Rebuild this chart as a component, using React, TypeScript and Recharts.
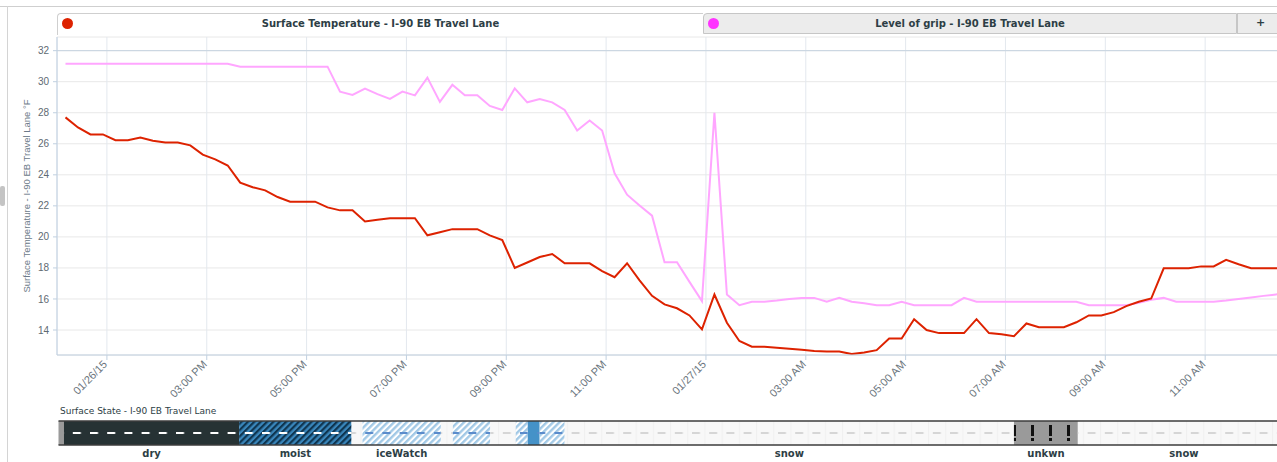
import React from "react";
import {
  LineChart,
  Line,
  XAxis,
  YAxis,
  CartesianGrid,
  ReferenceLine,
  ReferenceArea,
  ComposedChart,
} from "recharts";

// hours since 12:00 PM 01/26/15, one reading every 15 minutes
const hours = [
  0.17, 0.42, 0.67, 0.92, 1.17, 1.42, 1.67, 1.92, 2.17, 2.42, 2.67, 2.92,
  3.17, 3.42, 3.67, 3.92, 4.17, 4.42, 4.67, 4.92, 5.17, 5.42, 5.67, 5.92,
  6.17, 6.42, 6.67, 6.92, 7.17, 7.42, 7.67, 7.92, 8.17, 8.42, 8.67, 8.92,
  9.17, 9.42, 9.67, 9.92, 10.17, 10.42, 10.67, 10.92, 11.17, 11.42, 11.67, 11.92,
  12.17, 12.42, 12.67, 12.92, 13.17, 13.42, 13.67, 13.92, 14.17, 14.42, 14.67, 14.92,
  15.17, 15.42, 15.67, 15.92, 16.17, 16.42, 16.67, 16.92, 17.17, 17.42, 17.67, 17.92,
  18.17, 18.42, 18.67, 18.92, 19.17, 19.42, 19.67, 19.92, 20.17, 20.42, 20.67, 20.92,
  21.17, 21.42, 21.67, 21.92, 22.17, 22.42, 22.67, 22.92, 23.17, 23.42, 23.67, 23.92,
  24.17, 24.42, 24.67,
];

const surfaceTemp = [
  27.7, 27.05, 26.6, 26.6, 26.23, 26.23, 26.4, 26.2, 26.08, 26.08, 25.9, 25.3,
  25.0, 24.6, 23.5, 23.2, 23.0, 22.57, 22.27, 22.27, 22.27, 21.9, 21.71, 21.71,
  21.0, 21.1, 21.2, 21.2, 21.2, 20.1, 20.3, 20.5, 20.5, 20.5, 20.1, 19.8,
  18.0, 18.35, 18.7, 18.9, 18.3, 18.3, 18.3, 17.8, 17.4, 18.3, 17.2, 16.2,
  15.65, 15.4, 14.94, 14.04, 16.29, 14.47, 13.29, 12.92, 12.92, 12.86, 12.8, 12.73,
  12.65, 12.62, 12.62, 12.45, 12.55, 12.7, 13.45, 13.45, 14.7, 14.0, 13.8, 13.8,
  13.8, 14.7, 13.8, 13.72, 13.6, 14.42, 14.18, 14.18, 14.18, 14.5, 14.94, 14.94,
  15.15, 15.54, 15.82, 16.03, 17.98, 17.98, 17.98, 18.1, 18.1, 18.52, 18.24, 17.98,
  17.98, 17.98, 17.98,
];

const grip = [
  31.16, 31.16, 31.16, 31.16, 31.16, 31.16, 31.16, 31.16, 31.16, 31.16, 31.16, 31.16,
  31.16, 31.16, 30.97, 30.97, 30.97, 30.97, 30.97, 30.97, 30.97, 30.97, 29.36, 29.15,
  29.55, 29.2, 28.89, 29.36, 29.12, 30.26, 28.7, 29.8, 29.13, 29.13, 28.44, 28.18,
  29.57, 28.67, 28.89, 28.67, 28.18, 26.85, 27.5, 26.85, 24.1, 22.72, 22.03, 21.37,
  18.37, 18.37, 17.1, 15.86, 28.0, 16.29, 15.6, 15.82, 15.82, 15.9, 16.0, 16.07,
  16.07, 15.82, 16.07, 15.82, 15.73, 15.6, 15.6, 15.82, 15.6, 15.6, 15.6, 15.6,
  16.07, 15.82, 15.82, 15.82, 15.82, 15.82, 15.82, 15.82, 15.82, 15.82, 15.6, 15.6,
  15.6, 15.6, 15.75, 15.95, 16.07, 15.82, 15.82, 15.82, 15.82, 15.9, 16.0, 16.1,
  16.2, 16.29, 16.38,
];

const xTicks = [1, 3, 5, 7, 9, 11, 13, 15, 17, 19, 21, 23];
const xTickLabels = [
  "01/26/15", "03:00 PM", "05:00 PM", "07:00 PM", "09:00 PM", "11:00 PM",
  "01/27/15", "03:00 AM", "05:00 AM", "07:00 AM", "09:00 AM", "11:00 AM",
];
const yTicks = [14, 16, 18, 20, 22, 24, 26, 28, 30, 32];

// surface state segments
const stateNames = [
  "edge", "dry", "moist", "snow", "iceWatch", "snow", "iceWatch", "snow",
  "iceWatch", "ice", "iceWatch", "snow", "unkwn", "snow",
];
const stateStart = [0.03, 0.14, 3.65, 5.9, 6.12, 7.69, 7.93, 8.68, 9.19, 9.43, 9.67, 10.17, 19.17, 20.45];
const stateEnd = [0.14, 3.65, 5.9, 6.12, 7.69, 7.93, 8.68, 9.19, 9.43, 9.67, 10.17, 19.17, 20.45, 24.7];

const rows = hours.map((t, i) => ({ t, temp: surfaceTemp[i], grip: grip[i] }));
const stripRows = [{ t: 0, v: 0.5 }, { t: 24.7, v: 0.5 }];

const X_DOMAIN: [number, number] = [0, 24.7];
const CHART_W = 1290;
const AXIS_FONT = "'Liberation Sans', Arial, sans-serif";
const UI_FONT = "'DejaVu Sans', Verdana, sans-serif";

const stateStyle: Record<string, { bg: string; hatch?: string; dash?: string }> = {
  edge: { bg: "#9a9a9a" },
  dry: { bg: "#263234", dash: "dashWhite" },
  moist: { bg: "#3a86bb", hatch: "hatchDark", dash: "dashWhite" },
  iceWatch: { bg: "#ffffff", hatch: "hatchLight", dash: "dashBlue" },
  ice: { bg: "#4592c8", dash: "dashBlue" },
  snow: { bg: "#f8f8f8", dash: "dashGrey" },
  unkwn: { bg: "#9a9a9a", dash: "bang" },
};

function XTick({ x, y, payload }: any) {
  const label = xTickLabels[xTicks.indexOf(payload.value)];
  const ax = x + 1;
  const ay = y + 3;
  return (
    <text
      x={ax}
      y={ay}
      transform={`rotate(-45 ${ax} ${ay})`}
      textAnchor="end"
      fontSize={11}
      fontFamily={AXIS_FONT}
      fill="#6a747c"
    >
      {label}
    </text>
  );
}

function StateCell(props: any) {
  const { x, y, width, height, state } = props;
  const s = stateStyle[state];
  if (!s || width == null) return null;
  return (
    <g>
      <rect x={x} y={y} width={width} height={height} fill={s.bg} />
      {s.hatch && <rect x={x} y={y} width={width} height={height} fill={`url(#${s.hatch})`} />}
      {s.dash && <rect x={x} y={y} width={width} height={height} fill={`url(#${s.dash})`} />}
    </g>
  );
}

function Patterns() {
  return (
    <svg width={0} height={0} style={{ position: "absolute" }}>
      <defs>
        <pattern id="hatchDark" width={4.5} height={4.5} patternUnits="userSpaceOnUse" patternTransform="rotate(45)">
          <rect x={0} y={0} width={2.2} height={4.5} fill="#0f3550" />
        </pattern>
        <pattern id="hatchLight" width={4.5} height={4.5} patternUnits="userSpaceOnUse" patternTransform="rotate(45)">
          <rect x={0} y={0} width={2.4} height={4.5} fill="#a2c9e6" />
        </pattern>
        <pattern id="dashWhite" x={4} y={0} width={17.2} height={30} patternUnits="userSpaceOnUse">
          <rect x={0} y={12} width={8} height={2} fill="#ffffff" />
        </pattern>
        <pattern id="dashBlue" x={4} y={0} width={17.2} height={30} patternUnits="userSpaceOnUse">
          <rect x={0} y={12} width={8} height={2} fill="#5a8bcb" />
        </pattern>
        <pattern id="dashGrey" x={4} y={0} width={17.2} height={30} patternUnits="userSpaceOnUse">
          <rect x={0} y={12} width={8} height={2} fill="#d6d6d6" />
          <rect x={12.5} y={0} width={1} height={30} fill="#f0f0f0" />
        </pattern>
        <pattern id="bang" x={1} y={0} width={18} height={30} patternUnits="userSpaceOnUse">
          <rect x={4} y={5} width={3} height={11} fill="#111" />
          <rect x={4} y={18} width={3} height={3} fill="#111" />
        </pattern>
      </defs>
    </svg>
  );
}

export default function App() {
  return (
    <div
      style={{
        position: "fixed",
        left: 0,
        top: 0,
        width: 1277,
        height: 462,
        overflow: "hidden",
        background: "#fff",
      }}
    >
      <Patterns />
      {/* frame */}
      <div style={{ position: "absolute", left: 0, top: 6, width: 1277, height: 1, background: "#cfcfcf" }} />
      <div style={{ position: "absolute", left: 7, top: 6, width: 1, height: 456, background: "#d4d4d4" }} />
      <div style={{ position: "absolute", left: 0, top: 186, width: 5, height: 20, background: "#c4c4c4", borderRadius: 2 }} />

      {/* tabs */}
      <div
        style={{
          position: "absolute", left: 57, top: 13, width: 646, height: 22,
          background: "#fff", borderTop: "1px solid #cfcfcf", borderLeft: "1px solid #cfcfcf",
          borderTopLeftRadius: 4, boxSizing: "border-box",
        }}
      >
        <div style={{ position: "absolute", left: 4, top: 4, width: 11, height: 11, borderRadius: 6, background: "#dd2200" }} />
        <div style={{ textAlign: "center", fontFamily: UI_FONT, fontWeight: "bold", fontSize: 10, lineHeight: "19px", color: "#2d3e45" }}>
          Surface Temperature - I-90 EB Travel Lane
        </div>
      </div>
      <div
        style={{
          position: "absolute", left: 703, top: 13, width: 534, height: 21,
          background: "#ececec", border: "1px solid #c6c6c6", borderTopLeftRadius: 4, boxSizing: "border-box",
        }}
      >
        <div style={{ position: "absolute", left: 4, top: 4, width: 11, height: 11, borderRadius: 6, background: "#ff33ff" }} />
        <div style={{ textAlign: "center", fontFamily: UI_FONT, fontWeight: "bold", fontSize: 10, lineHeight: "19px", color: "#2d3e45" }}>
          Level of grip - I-90 EB Travel Lane
        </div>
      </div>
      <div
        style={{
          position: "absolute", left: 1237, top: 13, width: 45, height: 21,
          background: "#ececec", border: "1px solid #c6c6c6", boxSizing: "border-box",
          fontFamily: UI_FONT, fontWeight: "bold", fontSize: 11, lineHeight: "18px", color: "#2d3e45",
          paddingLeft: 18,
        }}
      >
        +
      </div>

      {/* temperature / grip chart */}
      <div style={{ position: "absolute", left: 0, top: 0 }}>
        <LineChart width={CHART_W} height={400} data={rows} margin={{ top: 37, right: 0, bottom: 0, left: 0 }}>
          <CartesianGrid horizontal vertical={false} stroke="#e8e8e8" />
          <CartesianGrid horizontal={false} vertical stroke="#e3e8ee" />
          <XAxis
            type="number"
            dataKey="t"
            domain={X_DOMAIN}
            ticks={xTicks}
            interval={0}
            allowDataOverflow
            height={45}
            tick={<XTick />}
            tickSize={5}
            axisLine={{ stroke: "#c0d0e0" }}
            tickLine={{ stroke: "#c0d0e0" }}
          />
          <YAxis
            type="number"
            domain={[12.39, 32.88]}
            ticks={yTicks}
            allowDataOverflow
            width={57}
            tickSize={4}
            tickMargin={4}
            axisLine={{ stroke: "#c0d0e0" }}
            tickLine={{ stroke: "#c0d0e0" }}
            tick={{ fontSize: 10, fill: "#606a72", fontFamily: AXIS_FONT }}
          />
          <ReferenceLine y={32} stroke="#c6d3e0" />
          <Line
            dataKey="grip"
            stroke="#ffa6ff"
            strokeWidth={2}
            dot={false}
            activeDot={false}
            isAnimationActive={false}
          />
          <Line
            dataKey="temp"
            stroke="#dd2200"
            strokeWidth={2}
            dot={false}
            activeDot={false}
            isAnimationActive={false}
          />
        </LineChart>
      </div>

      {/* y axis title */}
      <svg style={{ position: "absolute", left: 0, top: 0 }} width={60} height={360}>
        <text
          x={30}
          y={196}
          transform="rotate(-90 30 196)"
          textAnchor="middle"
          fontSize={9.5}
          fontFamily={AXIS_FONT}
          fill="#6c7a88"
        >
          Surface Temperature - I-90 EB Travel Lane °F
        </text>
      </svg>

      {/* surface state strip */}
      <div
        style={{
          position: "absolute", left: 60, top: 406, fontFamily: UI_FONT, fontSize: 9, color: "#2d3e45",
        }}
      >
        Surface State - I-90 EB Travel Lane
      </div>
      <div style={{ position: "absolute", left: 0, top: 420 }}>
        <ComposedChart width={CHART_W} height={42} data={stripRows} margin={{ top: 1, right: 0, bottom: 17, left: 57 }}>
          <XAxis type="number" dataKey="t" domain={X_DOMAIN} allowDataOverflow hide />
          <YAxis type="number" domain={[0, 1]} allowDataOverflow hide />
          <Line dataKey="v" stroke="none" dot={false} activeDot={false} isAnimationActive={false} />
          {stateNames.map((s, i) => (
            <ReferenceArea
              key={i}
              x1={stateStart[i]}
              x2={stateEnd[i]}
              y1={0}
              y2={1}
              ifOverflow="hidden"
              shape={(p: any) => <StateCell {...p} state={s} />}
              label={
                stateEnd[i] - stateStart[i] > 1
                  ? {
                      value: s,
                      position: "bottom",
                      offset: 5,
                      fill: "#2d3e45",
                      fontSize: 10,
                      fontWeight: "bold",
                      fontFamily: UI_FONT,
                    }
                  : undefined
              }
            />
          ))}
          <ReferenceLine segment={[{ x: 0.03, y: 1 }, { x: 24.7, y: 1 }]} stroke="#3c3c3c" strokeWidth={1.5} />
          <ReferenceLine segment={[{ x: 0.03, y: 0 }, { x: 24.7, y: 0 }]} stroke="#3c3c3c" strokeWidth={1.5} />
        </ComposedChart>
      </div>
    </div>
  );
}
